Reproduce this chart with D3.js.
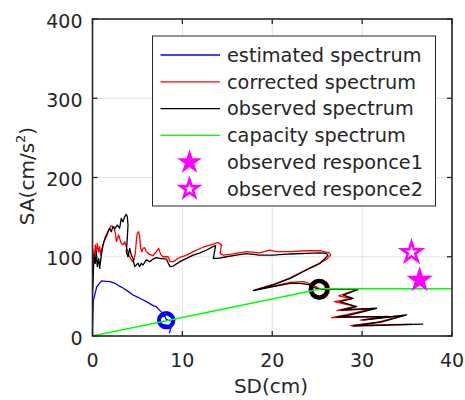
<!DOCTYPE html>
<html>
<head>
<meta charset="utf-8">
<script src="https://cdn.jsdelivr.net/npm/d3@7/dist/d3.min.js"></script>
<style>
html,body{margin:0;padding:0;background:#fff;}
svg text{font-family:"DejaVu Sans","Noto Sans",sans-serif;fill:#262626;}
</style>
</head>
<body>
<svg id="chart" width="465" height="400"></svg>
<script>
// ---- data ----
const xTicks = [0, 10, 20, 30, 40];
const yTicks = [0, 100, 200, 300, 400];
const seriesNames = ["estimated spectrum", "corrected spectrum", "observed spectrum", "capacity spectrum", "observed responce1", "observed responce2"];

const estimatedSpectrum = [[0,0],[0,10],[0.1,45],[0.47,62],[1.0,69.5],[1.5,69],[1.95,68.5],[2.5,66.5],[3.0,63],[3.4,60.5],[4.0,56],[4.5,51.7],[4.9,49.6],[5.65,45.4],[6.0,43.3],[6.8,38],[7.1,37],[7.5,32],[7.9,28],[8.2,21],[8.9,18],[8.6,13],[7.6,15],[7.5,23],[8.3,27],[9.0,22],[8.55,3.4]];
const estimatedPoint = [8.2, 20];

const correctedSpectrum = [[0,45],[0,81],[0.02,110.6],[0.17,96],[0.31,115],[0.42,102],[0.53,117],[0.69,106],[0.8,112.7],[0.91,102],[1.06,110.6],[1.28,119],[1.54,125],[1.8,133.8],[2.02,138],[2.17,139],[2.28,136],[2.39,138],[2.54,129.6],[2.65,119],[2.76,123],[2.91,127.4],[3.02,123],[3.2,117],[3.39,115],[3.58,119],[3.76,112.7],[3.87,108.5],[4.02,102],[4.25,98],[4.43,93.8],[4.62,96],[4.76,104.3],[4.87,119],[4.98,129.6],[5.14,131.6],[5.25,125],[5.36,110.6],[5.5,106.4],[5.62,110.6],[5.8,111.4],[5.99,106.4],[6.36,103],[6.73,101.3],[7.1,106.4],[7.36,110.6],[7.59,103],[7.84,100],[8.4,100],[8.62,93.8],[8.99,93.8],[9.73,99.3],[10.48,102],[11.2,106.4],[12.3,112],[13.44,116],[14.0,118],[14.35,115],[14.2,104.3],[14.55,102],[15.66,103.5],[17.15,106.4],[18.6,105],[19.7,108.5],[20.5,106.4],[22,106.4],[23.8,107.6],[25.3,107.6],[26.35,105],[26.5,102],[26.05,96.8],[25.3,92],[23.8,83.8],[22,73.3],[20.1,65],[17.9,57.5],[18.6,59.5],[20.1,63],[22,67.5],[23.45,68.5],[24.4,65.5],[25.2,60],[26.5,59],[29.57,59.3],[27.4,50.5],[28.8,47],[26.9,43.5],[29.2,37.5],[27.2,32],[31.2,34.5],[28.3,27],[26.6,23.2],[32.8,24.8],[29.8,20],[34.6,26],[31.8,17.5],[28.7,13],[35.5,14.8]];

const observedSpectrum = [[0,55],[0.06,68.5],[0.17,102],[0.31,91.7],[0.42,106],[0.53,87.5],[0.69,98],[0.8,85.4],[0.98,102],[1.17,115],[1.43,125],[1.72,131.6],[1.91,136],[2.09,131.6],[2.28,138],[2.47,135],[2.76,140],[3.02,136],[3.2,148.5],[3.39,144],[3.58,150.5],[3.76,153.5],[3.87,150.5],[3.95,140],[3.87,123],[3.76,106],[3.95,100],[4.14,110.6],[4.32,102],[4.5,98],[4.69,87.5],[4.87,89.6],[5.06,91.7],[5.25,87.5],[5.43,91.7],[5.62,89.6],[5.99,96],[6.36,93.8],[6.73,97],[7.1,98.8],[7.47,98],[8.25,97],[8.43,91.7],[8.62,87.5],[8.99,88.3],[9.73,93.8],[10.48,98],[11.2,102],[11.96,105],[12.7,108.5],[13.4,112.7],[13.7,114],[13.44,98],[14,98],[14.9,100],[16,102],[17.15,104],[18.6,102],[20.1,102],[22,103.5],[23.8,104.3],[25.3,105],[26,104.3],[26.2,102],[25.9,98],[25.3,91.7],[23.8,83.3],[22,72.8],[20.1,64.4],[17.9,57.2],[18.6,59],[20.1,62.2],[22,66.5],[23.1,66.5],[24.2,64.4],[24.9,60],[25.3,59],[27,59],[29.57,58.9],[27.9,51.7],[29.0,47.6],[27.5,43.3],[29.4,37],[27.7,32.8],[31.6,35],[28.6,26.5],[27.2,24],[33.1,24.4],[30.1,20.2],[34.95,26.5],[32.3,18],[29.0,12.6],[36.8,15.1]];
const observedPoint = [25.2, 59];

const capacitySpectrum = [[0,0],[25.5,59.5],[40,59.5]];

const observedResponce1 = [[36.4, 70.5]];
const observedResponce2 = [[35.5, 105.5]];

// ---- chart ----
const svg = d3.select("#chart");
const x = d3.scaleLinear().domain([0, 40]).range([92.5, 452]);
const y = d3.scaleLinear().domain([0, 400]).range([336, 19]);
const axisColor = "#262626";

// grid
const grid = svg.append("g");
grid.selectAll("line.gx").data(xTicks.slice(1, -1)).join("line")
  .attr("x1", d => x(d)).attr("x2", d => x(d)).attr("y1", y(0)).attr("y2", y(400))
  .attr("stroke", "#e3e3e3").attr("stroke-width", 1);
grid.selectAll("line.gy").data(yTicks.slice(1, -1)).join("line")
  .attr("x1", x(0)).attr("x2", x(40)).attr("y1", d => y(d)).attr("y2", d => y(d))
  .attr("stroke", "#e3e3e3").attr("stroke-width", 1);

svg.append("clipPath").attr("id", "plotclip").append("rect")
  .attr("x", x(0)).attr("y", y(400)).attr("width", x(40) - x(0)).attr("height", y(0) - y(400));
const plot = svg.append("g").attr("clip-path", "url(#plotclip)");

const line = d3.line().x(d => x(d[0])).y(d => y(d[1]));

plot.append("path").datum(estimatedSpectrum).attr("d", line)
  .attr("fill", "none").attr("stroke", "#0000ff").attr("stroke-width", 1.3);
plot.append("circle").attr("cx", x(estimatedPoint[0])).attr("cy", y(estimatedPoint[1])).attr("r", 7.2)
  .attr("fill", "none").attr("stroke", "#0000ff").attr("stroke-width", 4);

plot.append("path").datum(correctedSpectrum).attr("d", line)
  .attr("fill", "none").attr("stroke", "#ff0000").attr("stroke-width", 1.3).attr("stroke-linejoin", "round");
plot.append("path").datum(observedSpectrum).attr("d", line)
  .attr("fill", "none").attr("stroke", "#000000").attr("stroke-width", 1.3).attr("stroke-linejoin", "round");
plot.append("circle").attr("cx", x(observedPoint[0]) + 1).attr("cy", y(observedPoint[1])).attr("r", 8.3)
  .attr("fill", "none").attr("stroke", "#ff0000").attr("stroke-width", 4);
plot.append("circle").attr("cx", x(observedPoint[0])).attr("cy", y(observedPoint[1])).attr("r", 8.3)
  .attr("fill", "none").attr("stroke", "#000000").attr("stroke-width", 4.3);

plot.append("path").datum(capacitySpectrum).attr("d", line)
  .attr("fill", "none").attr("stroke", "#00ff00").attr("stroke-width", 1.5);

const starBig = d3.symbol().type(d3.symbolStar).size(215);
const starSmall = d3.symbol().type(d3.symbolStar).size(120);
svg.selectAll("path.s1").data(observedResponce1).join("path")
  .attr("transform", d => `translate(${x(d[0])},${y(d[1])})`)
  .attr("d", starBig).attr("fill", "#ff00ff");
svg.selectAll("path.s2").data(observedResponce2).join("path")
  .attr("transform", d => `translate(${x(d[0])},${y(d[1])})`)
  .attr("d", starSmall).attr("fill", "#ffffff").attr("stroke", "#ff00ff").attr("stroke-width", 2.6);

// axes box
const ax = svg.append("g");
ax.append("rect").attr("x", x(0)).attr("y", y(400)).attr("width", x(40) - x(0)).attr("height", y(0) - y(400))
  .attr("fill", "none").attr("stroke", axisColor).attr("stroke-width", 1.6);
const tl = 5;
xTicks.forEach(t => {
  ax.append("line").attr("x1", x(t)).attr("x2", x(t)).attr("y1", y(0)).attr("y2", y(0) - tl).attr("stroke", axisColor).attr("stroke-width", 1.3);
  ax.append("line").attr("x1", x(t)).attr("x2", x(t)).attr("y1", y(400)).attr("y2", y(400) + tl).attr("stroke", axisColor).attr("stroke-width", 1.3);
});
yTicks.forEach(t => {
  ax.append("line").attr("x1", x(0)).attr("x2", x(0) + tl).attr("y1", y(t)).attr("y2", y(t)).attr("stroke", axisColor).attr("stroke-width", 1.3);
  ax.append("line").attr("x1", x(40)).attr("x2", x(40) - tl).attr("y1", y(t)).attr("y2", y(t)).attr("stroke", axisColor).attr("stroke-width", 1.3);
});
ax.selectAll("text.xt").data(xTicks).join("text")
  .attr("x", d => x(d)).attr("y", y(0) + 30.5).attr("text-anchor", "middle")
  .attr("font-size", 19).text(d => d);
ax.selectAll("text.yt").data(yTicks).join("text")
  .attr("x", x(0) - 10).attr("y", d => y(d) + 8.5).attr("text-anchor", "end")
  .attr("font-size", 19).text(d => d);

svg.append("text").attr("x", 271).attr("y", 393).attr("text-anchor", "middle")
  .attr("font-size", 20).text("SD(cm)");
const yl = svg.append("text").attr("transform", "translate(34,176) rotate(-90)")
  .attr("text-anchor", "middle").attr("font-size", 20);
yl.append("tspan").text("SA(cm/s");
yl.append("tspan").attr("font-size", 13).attr("dy", -9).text("2");
yl.append("tspan").attr("dy", 9).text(")");

// legend
const lg = svg.append("g");
lg.append("rect").attr("x", 152.5).attr("y", 36).attr("width", 283).attr("height", 170)
  .attr("fill", "#ffffff").attr("stroke", axisColor).attr("stroke-width", 1);
const legendColors = ["#0000ff", "#ff0000", "#000000", "#00ff00"];
const rowY = i => 55 + i * 26.8;
legendColors.forEach((c, i) => {
  lg.append("line").attr("x1", 160.5).attr("x2", 220).attr("y1", rowY(i)).attr("y2", rowY(i))
    .attr("stroke", c).attr("stroke-width", 1.3);
});
lg.append("path").attr("transform", `translate(189.5,${rowY(4)})`).attr("d", d3.symbol().type(d3.symbolStar).size(190)).attr("fill", "#ff00ff");
lg.append("path").attr("transform", `translate(189.5,${rowY(5)})`).attr("d", d3.symbol().type(d3.symbolStar).size(100))
  .attr("fill", "#ffffff").attr("stroke", "#ff00ff").attr("stroke-width", 2.6);
lg.selectAll("text.lt").data(seriesNames).join("text")
  .attr("x", 227).attr("y", (d, i) => rowY(i) + 6.8).attr("font-size", 19.3).attr("fill", "#000").text(d => d);
</script>
</body>
</html>
